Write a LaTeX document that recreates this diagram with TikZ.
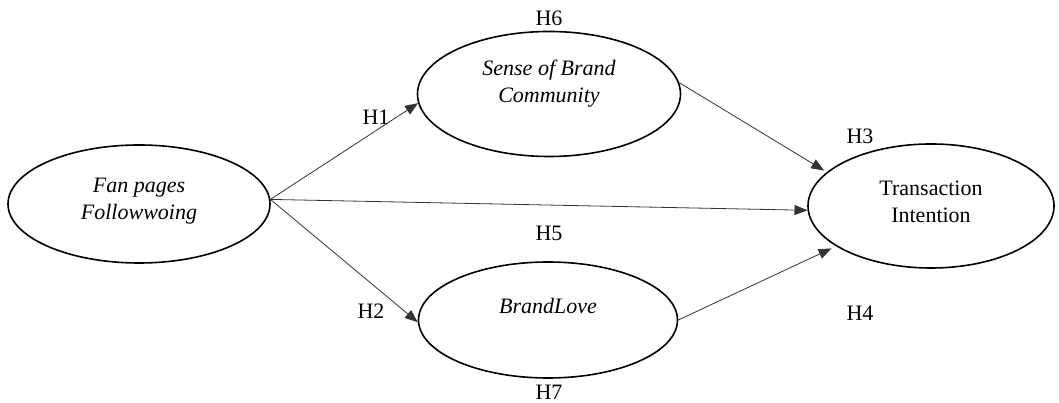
\documentclass[tikz,border=0pt]{standalone}
\usepackage{fontspec}
\setmainfont{Liberation Serif}
\usetikzlibrary{shapes.geometric,arrows.meta}
\begin{document}
\begin{tikzpicture}[x=1pt,y=1pt,
  construct/.style={ellipse,draw=black,line width=1.6pt,inner sep=0pt},
  label text/.style={align=center,inner sep=0pt,font=\fontsize{22}{27}\selectfont},
  link/.style={draw=black!80,line width=0.8pt,-{Triangle[length=13pt,width=10pt]}},
  hyp/.style={font=\fontsize{22}{26}\selectfont,inner sep=0pt}]
\useasboundingbox[fill=white] (0,0) rectangle (1059,403);
\node[construct,minimum width=262pt,minimum height=118pt] (fan) at (139,199) {};
\node[label text] (fantext) at ([yshift=3pt]fan.center) {\itshape Fan pages\\\itshape Followwoing};
\node[construct,minimum width=263pt,minimum height=125pt] (sbc) at (549,309) {};
\node[label text] (sbctext) at ([yshift=10pt]sbc.center) {\itshape Sense of Brand\\\itshape Community};
\node[construct,minimum width=259pt,minimum height=116pt] (bl) at (548,83) {};
\node[label text] (bltext) at ([yshift=14pt]bl.center) {\itshape BrandLove};
\node[construct,minimum width=246pt,minimum height=124pt] (ti) at (931,197) {};
\node[label text] (titext) at ([yshift=4pt]ti.center) {Transaction\\Intention};
\draw[link] (fan.2) -- (sbc.184);
\draw[link] (fan.2) -- (ti.182);
\draw[link] (fan.2) -- (bl.181);
\draw[link,shorten >=3pt] (sbc.5) -- (ti.162);
\draw[link,shorten >=5pt] (bl.east) -- (ti.203);
\node[hyp] (h6) at (549,385) {H6};
\node[hyp] (h1) at (376,286) {H1};
\node[hyp] (h3) at (860,267) {H3};
\node[hyp] (h5) at (549,170) {H5};
\node[hyp] (h2) at (371,92) {H2};
\node[hyp] (h4) at (860,90) {H4};
\node[hyp] (h7) at (549,11) {H7};
\end{tikzpicture}
\end{document}
